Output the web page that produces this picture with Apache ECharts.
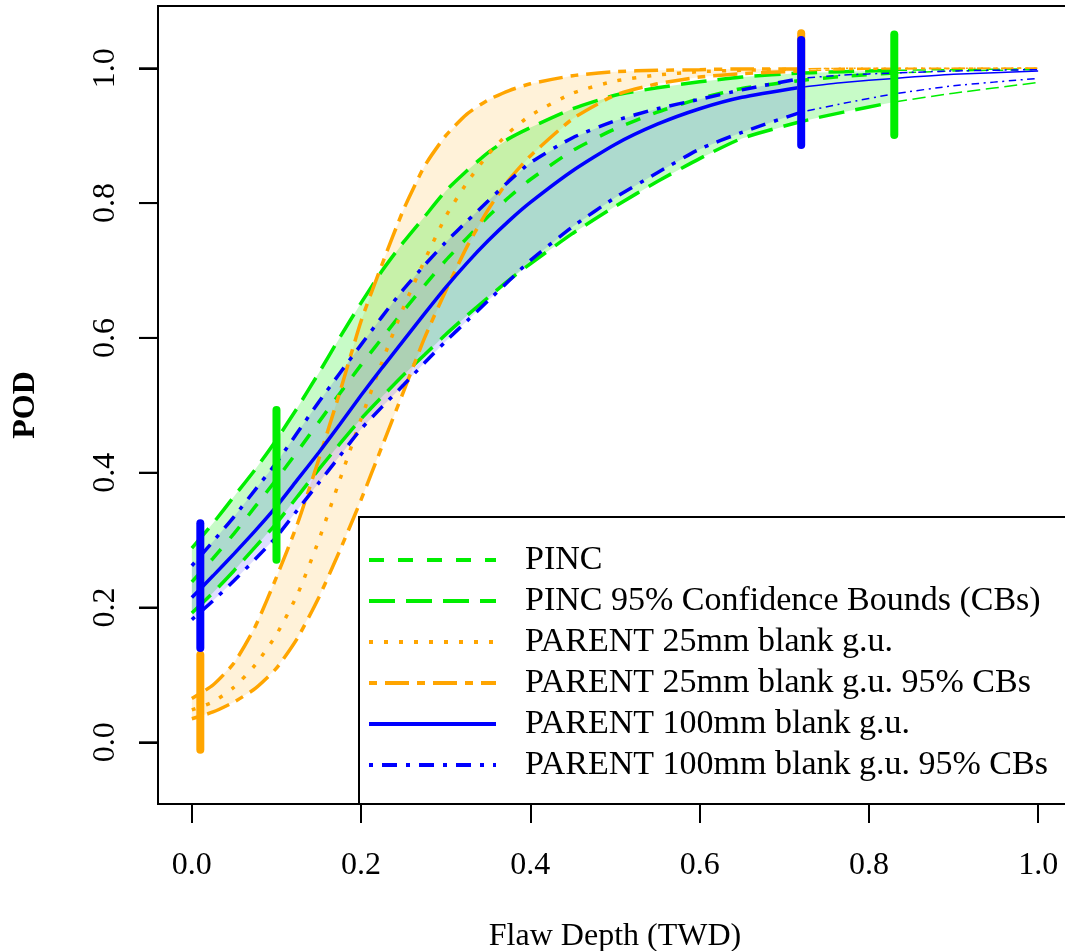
<!DOCTYPE html>
<html lang="en">
<head>
<meta charset="utf-8">
<style>
  html, body { margin: 0; padding: 0; background: #fff; }
  #container { width: 1065px; height: 951px; }
</style>
</head>
<body>
<div id="container"></div>
<script src="https://cdn.jsdelivr.net/npm/echarts@6/dist/echarts.min.js"></script>
<script>
// flaw depth (TWD) grid shared by every curve
var depth = [0, 0.025, 0.05, 0.075, 0.1, 0.125, 0.15, 0.175, 0.2, 0.225, 0.25, 0.275, 0.3, 0.325, 0.35, 0.375, 0.4, 0.45, 0.5, 0.55, 0.6, 0.65, 0.72, 0.77, 0.83, 0.9, 1.0];

// PINC
var pincPod   = [0.238, 0.273, 0.31, 0.35, 0.39, 0.432, 0.475, 0.518, 0.56, 0.60, 0.64, 0.678, 0.715, 0.748, 0.78, 0.809, 0.835, 0.878, 0.91, 0.935, 0.955, 0.97, 0.982, 0.988, 0.993, 0.996, 0.998];
var pincUpper = [0.288, 0.325, 0.365, 0.405, 0.449, 0.497, 0.548, 0.601, 0.652, 0.70, 0.742, 0.78, 0.818, 0.848, 0.875, 0.896, 0.912, 0.94, 0.96, 0.971, 0.98, 0.987, 0.993, 0.995, 0.997, 0.998, 0.999];
var pincLower = [0.192, 0.222, 0.255, 0.29, 0.325, 0.365, 0.405, 0.443, 0.48, 0.513, 0.545, 0.575, 0.605, 0.633, 0.66, 0.686, 0.71, 0.755, 0.795, 0.832, 0.866, 0.896, 0.921, 0.935, 0.95, 0.963, 0.979];

// PARENT 25mm blank g.u.
var p25Pod   = [0.048, 0.06, 0.082, 0.115, 0.16, 0.22, 0.30, 0.39, 0.48, 0.565, 0.645, 0.715, 0.78, 0.83, 0.872, 0.905, 0.93, 0.963, 0.981, 0.99, 0.995, 0.997, 0.999, 1.0, 1.0, 1.0, 1.0];
var p25Upper = [0.065, 0.085, 0.118, 0.172, 0.245, 0.325, 0.42, 0.52, 0.625, 0.71, 0.79, 0.855, 0.90, 0.932, 0.953, 0.967, 0.977, 0.989, 0.995, 0.997, 0.998, 0.999, 0.999, 1.0, 1.0, 1.0, 1.0];
var p25Lower = [0.035, 0.045, 0.06, 0.08, 0.11, 0.155, 0.215, 0.285, 0.36, 0.44, 0.52, 0.60, 0.67, 0.735, 0.79, 0.835, 0.87, 0.925, 0.96, 0.977, 0.987, 0.992, 0.996, 0.998, 0.999, 0.9995, 1.0];

// PARENT 100mm blank g.u.
var p100Pod   = [0.215, 0.247, 0.28, 0.314, 0.35, 0.39, 0.43, 0.472, 0.515, 0.556, 0.596, 0.636, 0.675, 0.711, 0.744, 0.774, 0.801, 0.848, 0.887, 0.917, 0.94, 0.957, 0.972, 0.979, 0.985, 0.991, 0.996];
var p100Upper = [0.262, 0.298, 0.335, 0.375, 0.415, 0.46, 0.505, 0.548, 0.59, 0.632, 0.672, 0.708, 0.742, 0.773, 0.803, 0.833, 0.86, 0.897, 0.922, 0.94, 0.954, 0.968, 0.985, 0.99, 0.993, 0.996, 0.998];
var p100Lower = [0.182, 0.21, 0.24, 0.272, 0.305, 0.345, 0.385, 0.425, 0.465, 0.498, 0.53, 0.563, 0.595, 0.625, 0.655, 0.685, 0.715, 0.765, 0.808, 0.845, 0.88, 0.905, 0.935, 0.948, 0.962, 0.974, 0.985];

// vertical range bars
var pincBarDepth = [0.1, 0.83];
var pincBarLow   = [0.271, 0.901];
var pincBarHigh  = [0.493, 1.05];
var p25BarDepth  = [0.01, 0.72];
var p25BarLow    = [-0.011, 0.955];
var p25BarHigh   = [0.13, 1.052];
var p100BarDepth = [0.01, 0.72];
var p100BarLow   = [0.14, 0.886];
var p100BarHigh  = [0.325, 1.042];

var xTicks = [0, 0.2, 0.4, 0.6, 0.8, 1.0];
var yTicks = [0, 0.2, 0.4, 0.6, 0.8, 1.0];
var names = ['PINC', 'PINC 95% Confidence Bounds (CBs)', 'PARENT 25mm blank g.u.',
  'PARENT 25mm blank g.u. 95% CBs', 'PARENT 100mm blank g.u.', 'PARENT 100mm blank g.u. 95% CBs'];

var font = 'Liberation Serif';
var green = '#00ee00', orange = '#ffa500', blue = '#0000ff';

var dom = document.getElementById('container');
var myChart = echarts.init(dom, null, { renderer: 'canvas' });

function pts(ys, from, to) {
  var out = [];
  for (var i = 0; i < depth.length; i++) {
    if (depth[i] >= from && depth[i] <= to) out.push([depth[i], ys[i]]);
  }
  return out;
}

function curve(name, ys, from, to, color, width, dash) {
  return {
    name: name, type: 'line', data: pts(ys, from, to), color: color,
    symbol: 'none', showSymbol: false, silent: true, z: 3, smooth: 0.2,
    lineStyle: { color: color, width: width, type: dash },
    emphasis: { disabled: true }
  };
}

function scale(d, k) {
  if (typeof d === 'string') return d;
  return d.map(function (v) { return v * k; });
}

// thick part over the data range, thin continuation after it
function pair(name, ys, limit, color, dash) {
  return [
    curve(name, ys, 0, limit, color, 3.5, dash),
    curve(name, ys, limit, 1, color, 1.5, scale(dash, 0.5))
  ];
}

function band(lo, hi, to, fill) {
  var rows = [];
  for (var i = 0; i < depth.length; i++) {
    if (depth[i] <= to) rows.push([depth[i], lo[i], hi[i]]);
  }
  return {
    type: 'custom', silent: true, z: 1, data: rows,
    encode: { x: 0, y: [1, 2] },
    renderItem: function (params, api) {
      if (params.dataIndex !== 0) return null;
      var top = rows.map(function (r) { return api.coord([r[0], r[2]]); });
      var bottom = rows.map(function (r) { return api.coord([r[0], r[1]]); }).reverse();
      return { type: 'polygon', shape: { points: top.concat(bottom) }, style: { fill: fill } };
    }
  };
}

function bars(xs, lows, highs, color) {
  var rows = xs.map(function (x, i) { return [x, lows[i], highs[i]]; });
  return {
    type: 'custom', silent: true, z: 5, data: rows,
    encode: { x: 0, y: [1, 2] },
    renderItem: function (params, api) {
      var a = api.coord([api.value(0), api.value(1)]);
      var b = api.coord([api.value(0), api.value(2)]);
      return {
        type: 'line', shape: { x1: a[0], y1: a[1], x2: b[0], y2: b[1] },
        style: { stroke: color, lineWidth: 8, lineCap: 'round' }
      };
    }
  };
}

var dashed = [15, 14], longdash = [26, 11], dotted = [4, 11], twodash = [8, 8, 24, 8], dotdash = [4, 9, 15, 9];

var series = [
  band(p25Lower, p25Upper, 0.72, 'rgba(255,165,0,0.15)'),
  band(pincLower, pincUpper, 0.83, 'rgba(0,238,0,0.22)'),
  band(p100Lower, p100Upper, 0.72, 'rgba(0,0,255,0.13)')
].concat(
  pair(names[0], pincPod, 0.83, green, dashed),
  pair(names[1], pincUpper, 0.83, green, longdash),
  pair(names[1], pincLower, 0.83, green, longdash),
  pair(names[2], p25Pod, 0.72, orange, dotted),
  pair(names[3], p25Upper, 0.72, orange, twodash),
  pair(names[3], p25Lower, 0.72, orange, twodash),
  pair(names[4], p100Pod, 0.72, blue, 'solid'),
  pair(names[5], p100Upper, 0.72, blue, dotdash),
  pair(names[5], p100Lower, 0.72, blue, dotdash),
  [
    bars(p25BarDepth, p25BarLow, p25BarHigh, orange),
    bars(p100BarDepth, p100BarLow, p100BarHigh, blue),
    bars(pincBarDepth, pincBarLow, pincBarHigh, green)
  ]
);

var labelFmt = function (v) { return v.toFixed(1); };

var option = {
  animation: false,
  backgroundColor: '#fff',
  textStyle: { fontFamily: font, color: '#000' },
  grid: {
    left: 158, top: 6, width: 914, height: 798,
    outerBoundsMode: 'none', containLabel: false,
    show: true, borderColor: '#000', borderWidth: 2, backgroundColor: 'transparent'
  },
  legend: {
    data: names, orient: 'vertical', left: 359, top: 517,
    itemWidth: 127, itemHeight: 14, itemGap: 5,
    padding: [25, 40, 21, 8],
    backgroundColor: '#fff', borderColor: '#000', borderWidth: 2,
    textStyle: { fontFamily: font, fontSize: 34, color: '#000', lineHeight: 36, padding: [0, 0, 0, 24] },
    itemStyle: { opacity: 0 },
    lineStyle: { width: 4 },
    selectedMode: false
  },
  xAxis: {
    type: 'value', min: -0.04, max: 1.04,
    name: 'Flaw Depth (TWD)', nameLocation: 'middle', nameGap: 117,
    nameTextStyle: { fontFamily: font, fontSize: 32, color: '#000' },
    axisLine: { show: true, onZero: false, lineStyle: { color: '#000', width: 2 } },
    splitLine: { show: false },
    axisTick: { show: true, length: 19, customValues: xTicks, lineStyle: { color: '#000', width: 2 } },
    axisLabel: { customValues: xTicks, margin: 46, fontFamily: font, fontSize: 32, color: '#000', formatter: labelFmt }
  },
  yAxis: {
    type: 'value', position: 'left', min: -0.0915, max: 1.0924,
    name: 'POD', nameLocation: 'middle', nameGap: 116,
    nameTextStyle: { fontFamily: font, fontSize: 32, fontWeight: 'bold', color: '#000' },
    axisLine: { show: true, onZero: false, lineStyle: { color: '#000', width: 2 } },
    splitLine: { show: false },
    axisTick: { show: true, length: 19, customValues: yTicks, lineStyle: { color: '#000', width: 2 } },
    axisLabel: { customValues: yTicks, rotate: 90, margin: 36, fontFamily: font, fontSize: 32, color: '#000', formatter: labelFmt }
  },
  series: series
};

myChart.setOption(option);

// y tick marks placed through the axis scale (kept on top in case anything covers them)
var axisX = myChart.convertToPixel({ xAxisIndex: 0 }, -0.04);
myChart.setOption({
  graphic: yTicks.map(function (v) {
    var py = myChart.convertToPixel({ yAxisIndex: 0 }, v);
    return {
      type: 'line', silent: true, z: 10,
      shape: { x1: axisX - 19, y1: py, x2: axisX, y2: py },
      style: { stroke: '#000', lineWidth: 2 }
    };
  })
});

window.addEventListener('resize', myChart.resize);
</script>
</body>
</html>
